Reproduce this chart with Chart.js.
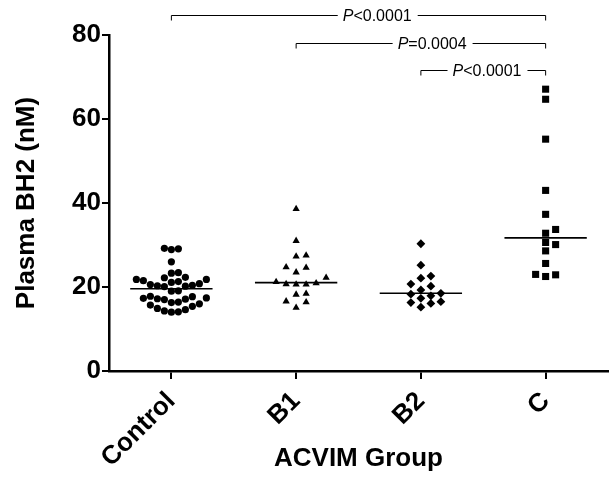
<!DOCTYPE html>
<html>
<head>
<meta charset="utf-8">
<script src="https://cdn.jsdelivr.net/npm/chart.js@4.4.1/dist/chart.umd.min.js"></script>
<style>
  html, body { margin: 0; padding: 0; background: #fff; }
  #wrap { width: 613px; height: 477px; }
</style>
</head>
<body>
<div id="wrap"><canvas id="bh2Chart" width="613" height="477"></canvas></div>
<script>
// groups on the x axis
var groups = ['Control', 'B1', 'B2', 'C'];

// plasma BH2 (nM)
var controlValues = [28.9, 29.1, 29.2, 26.0, 23.4, 23.3, 22.3, 22.2,
    21.8, 21.5, 21.1, 20.6, 20.3, 20.1, 20.2, 20.4, 20.8, 21.3, 21.8,
    19.1, 19.0,
    17.8, 17.4, 17.2, 17.0, 17.1, 17.3, 17.7,
    16.4, 16.0, 15.4, 14.6, 14.1, 14.0, 14.3, 14.9, 15.7, 16.3];
var b1Values = [38.6, 31.0, 27.3, 27.5, 24.6, 23.5, 24.7, 22.2,
    21.2, 20.6, 20.6, 20.7, 20.9, 18.2, 18.4, 16.4, 16.6, 15.1];
var b2Values = [30.3, 25.2, 22.6, 22.1, 20.7, 20.2, 19.3, 18.5, 18.3,
    17.9, 17.3, 16.5, 16.3, 16.1, 15.2];
var cValues = [67.1, 64.7, 55.2, 43.0, 37.3, 33.7, 32.8, 30.6, 30.1,
    28.6, 25.6, 23.0, 22.9, 22.5];

// y axis
var yMin = 0, yMax = 80, yStep = 20;

// pairwise comparisons drawn above the plot
var comparisons = [
    {from: 0, to: 3, sign: '<0.0001', level: 84.8, labelAt: 1.65},
    {from: 1, to: 3, sign: '=0.0004', level: 78.1, labelAt: 2.09},
    {from: 2, to: 3, sign: '<0.0001', level: 71.7, labelAt: 2.53}
];

var allValues = [controlValues, b1Values, b2Values, cValues];
var markers = ['circle', 'triangle', 'rectRot', 'rect'];
var markerRadius = [3.6, 4.2, 4.4, 5.0];
// horizontal / vertical clearance between markers, px
var gapX = [6.8, 10, 10, 10];
var gapY = [8.6, 7, 7, 8];

Chart.defaults.font.family = "Arial, 'Liberation Sans', sans-serif";
Chart.defaults.color = '#000';

function median(arr) {
    var s = arr.slice().sort(function (a, b) { return a - b; });
    var n = s.length;
    return n % 2 ? s[(n - 1) / 2] : (s[n / 2 - 1] + s[n / 2]) / 2;
}

var datasets = [];
allValues.forEach(function (vals, g) {
    datasets.push({
        type: 'scatter',
        data: vals.map(function (v) { return {x: g, y: v}; }),
        pointStyle: markers[g],
        pointRadius: markerRadius[g],
        pointHoverRadius: markerRadius[g],
        backgroundColor: '#000',
        borderColor: '#000',
        borderWidth: 0
    });
});
allValues.forEach(function (vals, g) {
    var m = median(vals);
    datasets.push({
        type: 'line',
        data: [{x: g - 0.33, y: m}, {x: g + 0.33, y: m}],
        borderColor: '#000',
        borderWidth: 1.6,
        pointRadius: 0,
        fill: false
    });
});

var bracketPlugin = {
    id: 'brackets',
    afterDraw: function (chart) {
        var ctx = chart.ctx, xs = chart.scales.x, ys = chart.scales.y;
        ctx.save();
        ctx.strokeStyle = '#000';
        ctx.fillStyle = '#000';
        ctx.lineWidth = 1;
        ctx.textBaseline = 'middle';
        comparisons.forEach(function (c) {
            var x1 = xs.getPixelForValue(c.from);
            var x2 = xs.getPixelForValue(c.to);
            var yy = Math.round(ys.getPixelForValue(c.level)) + 0.5;
            var tx = xs.getPixelForValue(c.labelAt);
            ctx.font = "italic 16px Arial, 'Liberation Sans', sans-serif";
            var wP = ctx.measureText('P').width;
            ctx.font = "16px Arial, 'Liberation Sans', sans-serif";
            var wR = ctx.measureText(c.sign).width;
            var w = wP + wR;
            var left = tx - w / 2;
            ctx.beginPath();
            ctx.moveTo(x1, yy + 5);
            ctx.lineTo(x1, yy);
            ctx.lineTo(left - 5, yy);
            ctx.moveTo(left + w + 6, yy);
            ctx.lineTo(x2, yy);
            ctx.lineTo(x2, yy + 5);
            ctx.stroke();
            ctx.textAlign = 'left';
            ctx.font = "italic 16px Arial, 'Liberation Sans', sans-serif";
            ctx.fillText('P', left, yy + 1);
            ctx.font = "16px Arial, 'Liberation Sans', sans-serif";
            ctx.fillText(c.sign, left + wP, yy + 1);
        });
        ctx.restore();
    }
};

var bh2Chart = new Chart(document.getElementById('bh2Chart'), {
    data: {datasets: datasets},
    options: {
        responsive: false,
        animation: false,
        layout: {padding: {top: 35, right: 1, left: 0, bottom: 0}},
        plugins: {legend: {display: false}, tooltip: {enabled: false}},
        scales: {
            x: {
                type: 'linear',
                min: -0.5,
                max: 3.5,
                afterBuildTicks: function (axis) {
                    axis.ticks = groups.map(function (g, i) { return {value: i}; });
                },
                afterFit: function (axis) { axis.height = 106; },
                ticks: {
                    autoSkip: false,
                    minRotation: 45,
                    maxRotation: 45,
                    padding: 7,
                    font: {size: 26, weight: 'bold'},
                    callback: function (v) { return groups[v]; }
                },
                grid: {drawOnChartArea: false, drawTicks: true, tickLength: 8, color: '#000', lineWidth: 2},
                border: {display: true, color: '#000', width: 2.5},
                title: {display: true, text: 'ACVIM Group', font: {size: 26, weight: 'bold'}, padding: {top: 0, bottom: 3}}
            },
            y: {
                min: yMin,
                max: yMax,
                afterFit: function (axis) { axis.width = 109; },
                ticks: {stepSize: yStep, padding: 1, font: {size: 26, weight: 'bold'}},
                grid: {drawOnChartArea: false, drawTicks: true, tickLength: 7, color: '#000', lineWidth: 2},
                border: {display: true, color: '#000', width: 2.5},
                title: {display: true, text: 'Plasma BH2 (nM)', font: {size: 26, weight: 'bold'}, padding: {top: 11, bottom: 0}}
            }
        }
    },
    plugins: [bracketPlugin]
});

// spread each group's points sideways so the markers do not overlap:
// markers closer than gy vertically must sit at least gx apart horizontally
function spreadOffsets(vals, yPix, gx, gy) {
    var order = vals.map(function (v, i) { return i; })
        .sort(function (a, b) { return vals[a] - vals[b]; });
    var placed = [], offs = [];
    order.forEach(function (i) {
        var py = yPix(vals[i]);
        for (var k = 0; k < 400; k++) {
            var cand = k === 0 ? 0 : (k % 2 ? 1 : -1) * Math.ceil(k / 2) * 0.5;
            var ok = placed.every(function (p) {
                return Math.abs(p.y - py) >= gy || Math.abs(p.x - cand) >= gx;
            });
            if (ok) { placed.push({x: cand, y: py}); offs[i] = cand; break; }
        }
    });
    return offs;
}

var xs = bh2Chart.scales.x, ys = bh2Chart.scales.y;
var pxPerUnit = xs.getPixelForValue(1) - xs.getPixelForValue(0);
allValues.forEach(function (vals, g) {
    var offs = spreadOffsets(vals, function (v) { return ys.getPixelForValue(v); }, gapX[g], gapY[g]);
    bh2Chart.data.datasets[g].data = vals.map(function (v, i) {
        return {x: g + offs[i] / pxPerUnit, y: v};
    });
});
bh2Chart.update();
</script>
</body>
</html>
